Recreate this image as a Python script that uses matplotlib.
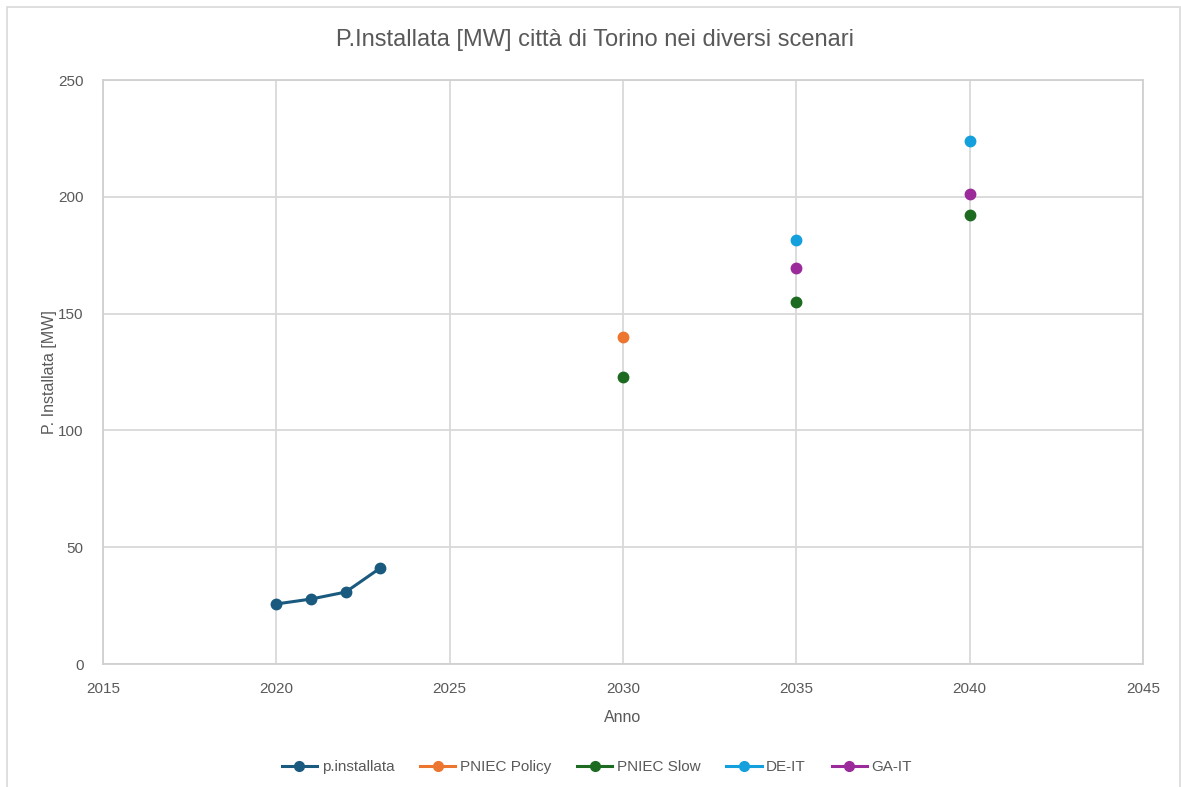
import matplotlib
matplotlib.use("Agg")
import matplotlib.pyplot as plt
from matplotlib.patches import Rectangle
from matplotlib.lines import Line2D

# Installed capacity, historical series
years_hist = [2020, 2021, 2022, 2023]
p_installata = [25.7, 27.8, 30.8, 41.1]

# Scenario projections
years_policy = [2030]
pniec_policy = [140.0]

years_slow = [2030, 2035, 2040]
pniec_slow = [122.9, 154.8, 192.2]

years_deit = [2035, 2040]
de_it = [181.5, 224.1]

years_gait = [2035, 2040]
ga_it = [169.5, 201.4]

x_ticks = [2015, 2020, 2025, 2030, 2035, 2040, 2045]
y_ticks = [0, 50, 100, 150, 200, 250]

title = "P.Installata [MW] città di Torino nei diversi scenari"
x_label = "Anno"
y_label = "P. Installata [MW]"

colors = {
    "p.installata": "#1a5a7f",
    "PNIEC Policy": "#ec7530",
    "PNIEC Slow": "#1c6b21",
    "DE-IT": "#14a0dc",
    "GA-IT": "#9b2a9b",
}

W, H = 1181, 787
fig = plt.figure(figsize=(W / 100, H / 100), dpi=100)
fig.patch.set_facecolor("white")

# Outer chart frame (bottom edge runs past the canvas)
fig.add_artist(Rectangle((7 / W, -0.05), (1180 - 7) / W, 1.05 - 7 / H,
                         transform=fig.transFigure, fill=False,
                         edgecolor="#d9d9d9", linewidth=1.2))

left, right, top, bottom = 103, 1143, 80, 664
ax = fig.add_axes([left / W, 1 - bottom / H, (right - left) / W, (bottom - top) / H])

ax.set_xlim(2015, 2045)
ax.set_ylim(0, 250)
ax.set_xticks(x_ticks)
ax.set_yticks(y_ticks)
ax.grid(True, color="#d9d9d9", linewidth=1.3)
ax.set_axisbelow(True)
for s in ax.spines.values():
    s.set_color("#d0d0d0")
    s.set_linewidth(1.3)
ax.tick_params(length=0, labelsize=11, labelcolor="#595959")
ax.tick_params(axis="x", pad=13)
ax.tick_params(axis="y", pad=14)
for lab in ax.get_xticklabels() + ax.get_yticklabels():
    lab.set_family("Liberation Sans")

ms = 7.5
ax.plot(years_hist, p_installata, color=colors["p.installata"], lw=2.2,
        marker="o", ms=ms, zorder=3)
ax.plot(years_policy, pniec_policy, ls="none", color=colors["PNIEC Policy"],
        marker="o", ms=ms, zorder=3)
ax.plot(years_slow, pniec_slow, ls="none", color=colors["PNIEC Slow"],
        marker="o", ms=ms, zorder=3)
ax.plot(years_deit, de_it, ls="none", color=colors["DE-IT"],
        marker="o", ms=ms, zorder=3)
ax.plot(years_gait, ga_it, ls="none", color=colors["GA-IT"],
        marker="o", ms=ms, zorder=3)

ax.set_xlabel(x_label, fontsize=11.5, color="#595959", family="Liberation Sans", labelpad=10)
ax.set_ylabel(y_label, fontsize=11.5, color="#595959", family="Liberation Sans", labelpad=1)

fig.text(595 / W, 1 - 40 / H, title, ha="center", va="center",
         fontsize=17, color="#595959", family="Liberation Sans")

handles = [Line2D([0], [0], color=c, lw=2.2, marker="o", ms=7) for c in colors.values()]
fig.legend(handles, list(colors.keys()), loc="center", bbox_to_anchor=(597 / W, 1 - 767 / H),
           ncol=5, frameon=False, handlelength=2.3, columnspacing=1.7, handletextpad=0.3,
           prop={"family": "Liberation Sans", "size": 11},
           labelcolor="#595959")

fig.savefig("out.png", dpi=100, facecolor="white")
